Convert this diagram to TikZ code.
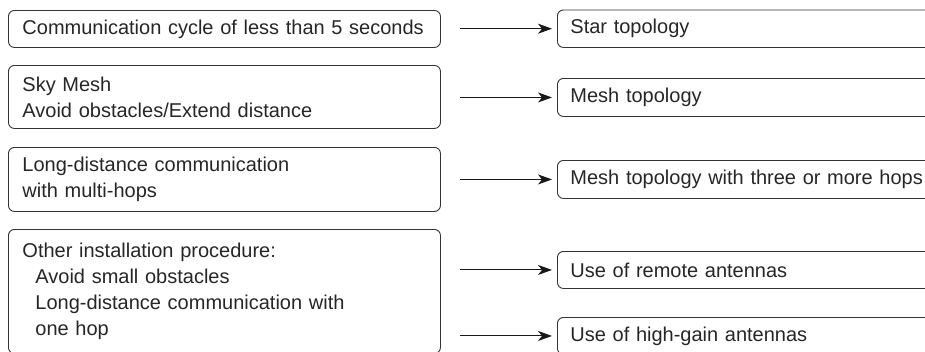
\documentclass[tikz,border=0pt]{standalone}
\usepackage{fontspec}
\setmainfont{Liberation Sans}
\usetikzlibrary{arrows.meta}
\tikzset{
  cond/.style={draw=black!80, line width=0.9pt, rounded corners=6pt, anchor=north west,
    text width=404pt, inner xsep=14pt, inner ysep=0pt, align=left,
    font=\fontsize{20}{26}\selectfont, text=black!85},
  result/.style={cond, text width=364pt, inner xsep=13pt},
  arr/.style={-{Stealth[length=14pt,width=10pt,inset=4pt]}, line width=1pt, draw=black!90, shorten >=5pt}
}
\newcommand{\ind}{\hspace*{13pt}}
\begin{document}
\begin{tikzpicture}[x=1pt,y=-1pt]
\useasboundingbox (0,0) rectangle (925,351);

\node[cond, minimum height=37pt] (c1) at (8,10) {Communication cycle of less than 5 seconds};
\node[cond, minimum height=63pt] (c2) at (8,65) {Sky Mesh\\Avoid obstacles/Extend distance};
\node[cond, minimum height=64pt] (c3) at (8,147) {Long-distance communication\\with multi-hops};
\node[cond, minimum height=124pt] (c4) at (8,229) {Other installation procedure:\\\ind Avoid small obstacles\\\ind Long-distance communication with\\\ind one hop};

\node[result, minimum height=37.5pt] (r1) at (557,9.5) {Star topology};
\node[result, minimum height=38pt] (r2) at (557,78) {Mesh topology};
\node[result, minimum height=38pt] (r3) at (557,160) {Mesh topology with three or more hops};
\node[result, minimum height=37pt] (r4) at (557,251) {Use of remote antennas};
\node[result, minimum height=37pt] (r5) at (557,317) {Use of high-gain antennas};

\coordinate (gap) at (460,0);
\foreach \r in {r1,r2,r3,r4,r5} {
  \coordinate (\r-from) at (gap |- \r.west);
  \draw[arr] (\r-from) -- (\r.west);
}
\end{tikzpicture}
\end{document}
